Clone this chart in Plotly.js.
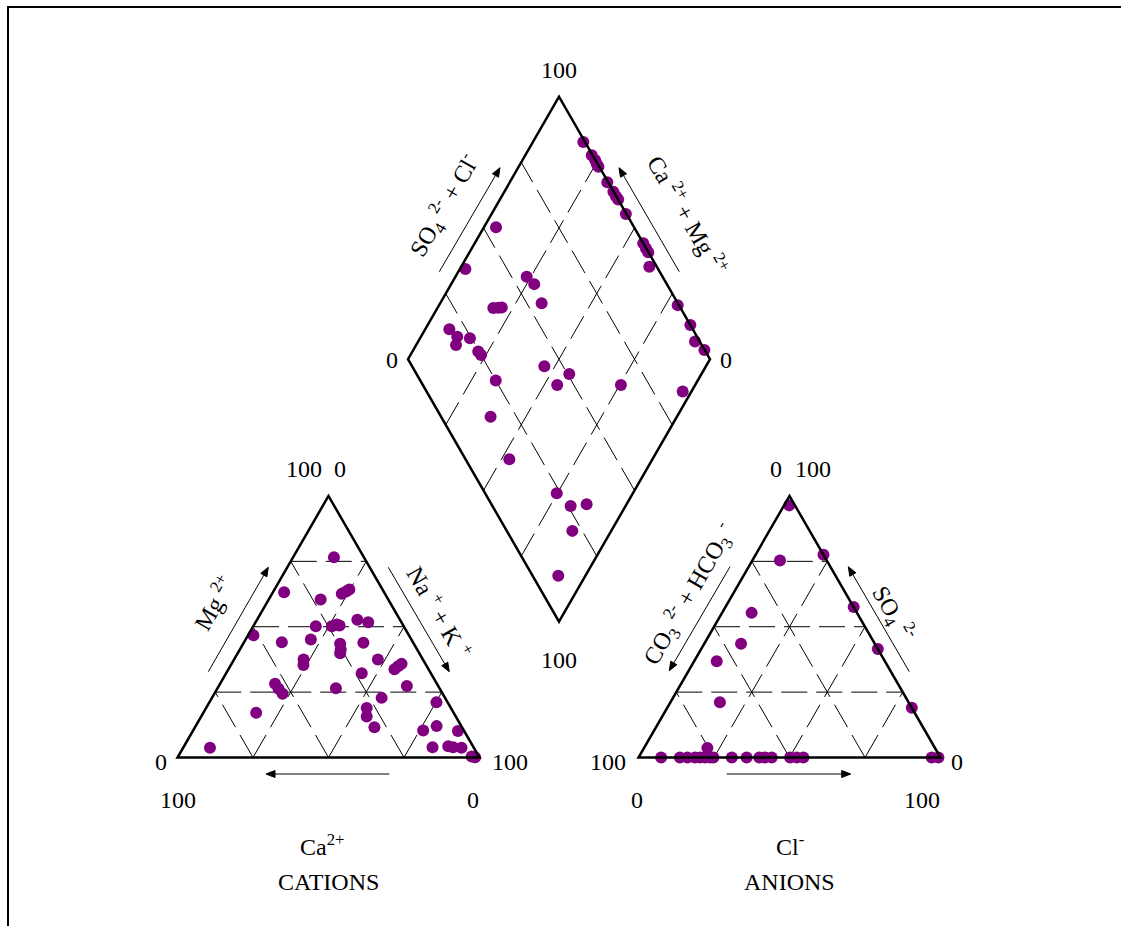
<!DOCTYPE html>
<html><head><meta charset="utf-8">
<script src="https://cdn.plot.ly/plotly-3.0.1.min.js"></script>
<style>html,body{margin:0;padding:0;background:#fff;} #chart{width:1121px;height:926px;}</style>
</head><body><div id="chart"></div>
<script>
// ---------------- DATA (percent of meq/L) ----------------
// Cation triangle
const cationMg  = [76.6,63.2,60.4,62.6,63.5,64.2,46.7,44.1,50.2,45.1,50.2,50.9,50.5,52.7,51.7,43.9,43.5,41.3,39.9,37.5,35.4,37.5,33.7,34.9,35.8,32.2,28.2,26.3,24.4,26.5,27.3,22.8,21.1,18.9,15.7,17.1,11.6,10.3,12.0,10.1,3.7,3.9,4.3,3.9,3.7,0.4,0.1];
const cationNaK = [13.5,3.7,17.2,23.1,24.1,24.8,1.8,12.5,20.7,21.6,26.0,27.3,28.4,33.2,37.3,39.6,32.1,33.4,33.9,23.0,24.0,47.6,55.0,55.6,56.3,44.9,18.2,20.3,22.6,39.2,62.3,56.2,75.2,53.2,54.8,17.5,59.4,76.2,79.8,87.8,8.9,82.5,87.5,89.3,92.2,97.2,98.5];
const cationCa  = [9.9,33.1,22.4,14.3,12.4,11.0,51.5,43.4,29.1,33.3,23.8,21.8,21.1,14.1,11.0,16.5,24.4,25.3,26.2,39.5,40.6,14.9,11.3,9.5,7.9,22.9,53.6,53.4,53.0,34.3,10.4,21.0,3.7,27.9,29.5,65.4,29.0,13.5,8.2,2.1,87.4,13.6,8.2,6.8,4.1,2.4,1.4];
// Anion triangle
const anionSO4 = [96.4,77.5,75.3,57.5,55.3,41.5,43.5,36.8,21.1,19.0,0,0,0,0,0,0,0,0,3.6,0,0,0,0,0,0,0,0,0,0];
const anionCl  = [1.7,22.5,9.2,42.5,9.8,58.5,12.2,7.5,16.4,81.0,7.5,13.7,16.2,18.7,20.4,22.0,23.7,24.8,21.0,30.9,35.8,40.0,41.9,44.1,50.2,52.4,54.6,97.1,99.3];
// Diamond (SO4+Cl, Ca+Mg)
const diamondSO4Cl = [99.4,99.7,99.9,99.7,99.7,99.7,99.9,99.9,100,99.8,54.3,100,99.9,99.9,97.5,36.2,55.0,56.1,54.9,38.0,39.7,40.9,99.6,19.4,20.6,18.6,24.5,24.7,25.0,100,98.4,99.9,43.8,50.6,44.5,25.0,65.6,84.8,16.4,14.5,23.7,25.9,31.5,21.7,8.5];
const diamondCaMg  = [83.3,78.0,76.0,74.7,73.6,67.7,63.9,62.2,60.8,55.5,96.0,44.2,42.3,40.8,37.7,98.2,76.4,72.5,66.4,81.5,79.9,78.8,21.0,92.0,88.0,86.8,83.5,78.2,76.6,13.0,8.3,3.6,53.5,43.8,45.7,66.9,24.6,2.9,61.7,47.4,25.2,18.2,13.2,12.9,9.0];
// Scale labels and axis names
const scaleLabels = ['0','100'];
const cationNames = ['Mg <sup>2+</sup>','Na <sup>+</sup> + K <sup>+</sup>','Ca<sup>2+</sup>','CATIONS'];
const anionNames  = ['CO<sub>3</sub> <sup>2-</sup> + HCO<sub>3</sub> <sup>-</sup>','SO<sub>4</sub> <sup>2-</sup>','Cl<sup>-</sup>','ANIONS'];
const diamondNames = ['SO<sub>4</sub> <sup>2-</sup> + Cl<sup>-</sup>','Ca <sup>2+</sup> + Mg <sup>2+</sup>'];

// ---------------- GEOMETRY ----------------
const S = 302, H = S*Math.sqrt(3)/2, BASE = 757.5;
const CL = 177.5, AL = 638.5;
const DX = 559, DB = 621.7, DH = 262.5;
const PURPLE = '#800080';
const FONT = 'Liberation Serif, Times New Roman, serif';

function catXY(mg, nak){ return [CL + S*(nak + mg/2)/100, BASE - H*mg/100]; }
function anXY(so4, cl){ return [AL + S*(cl + so4/2)/100, BASE - H*so4/100]; }
function diaXY(a, c){ return [DX + (a-c)/100*S/2, DB - (a+c)/100*DH]; }

const shapes = [];
function line(x0,y0,x1,y1,w,dash){ shapes.push({type:'line',xref:'x',yref:'y',x0,y0,x1,y1,line:{color:'#000',width:w,dash:dash||'solid'},layer:'below'}); }
const GD = '26px,9px';

// Frame
line(7,7,1121,7,2); line(8,7,8,926,2);

function triangle(L){
  const p = [[L,BASE],[L+S,BASE],[L+S/2,BASE-H]];
  shapes.push({type:'path',xref:'x',yref:'y',path:`M${p[0][0]},${p[0][1]} L${p[1][0]},${p[1][1]} L${p[2][0]},${p[2][1]} Z`,line:{color:'#000',width:2.5},layer:'above'});
  [25,50,75].forEach(k=>{
    const f = k/100;
    line(L+S*f/2, BASE-H*f, L+S-S*f/2, BASE-H*f, 1, GD);
    line(L+S*f, BASE, L+S*f+(S-S*f)/2, BASE-H*(1-f), 1, GD);
    line(L+S*f, BASE, L+S*f/2, BASE-H*f, 1, GD);
  });
}
triangle(CL); triangle(AL);

// Diamond
{
  const b=diaXY(0,0), r=diaXY(100,0), t=diaXY(100,100), l=diaXY(0,100);
  shapes.push({type:'path',xref:'x',yref:'y',path:`M${b[0]},${b[1]} L${r[0]},${r[1]} L${t[0]},${t[1]} L${l[0]},${l[1]} Z`,line:{color:'#000',width:2.5},layer:'above'});
  [25,50,75].forEach(k=>{
    const p0=diaXY(k,0), p1=diaXY(k,100); line(p0[0],p0[1],p1[0],p1[1],1,GD);
    const q0=diaXY(0,k), q1=diaXY(100,k); line(q0[0],q0[1],q1[0],q1[1],1,GD);
  });
}

// Arrows drawn as a line plus a filled head
function arrow(x0,y0,x1,y1){
  const dx=x1-x0, dy=y1-y0, len=Math.hypot(dx,dy), ux=dx/len, uy=dy/len;
  const hl=9, hw=3.5;
  const bx=x1-ux*hl, by=y1-uy*hl;
  shapes.push({type:'line',xref:'x',yref:'y',x0,y0,x1:bx,y1:by,line:{color:'#000',width:1}});
  const p1=[bx-uy*hw,by+ux*hw], p2=[bx+uy*hw,by-ux*hw];
  shapes.push({type:'path',xref:'x',yref:'y',path:`M${x1},${y1} L${p1[0]},${p1[1]} L${p2[0]},${p2[1]} Z`,fillcolor:'#000',line:{color:'#000',width:1}});
}

// Points
const cat = cationMg.map((m,i)=>catXY(m,cationNaK[i]));
const an = anionSO4.map((s,i)=>anXY(s,anionCl[i]));
const dia = diamondSO4Cl.map((a,i)=>diaXY(a,diamondCaMg[i]));
const mk = {color:PURPLE,size:12,symbol:'circle'};
const traces = [
  {x:cat.map(p=>p[0]),y:cat.map(p=>p[1]),mode:'markers',type:'scatter',marker:mk,customdata:cationCa,hoverinfo:'skip'},
  {x:an.map(p=>p[0]),y:an.map(p=>p[1]),mode:'markers',type:'scatter',marker:mk,hoverinfo:'skip'},
  {x:dia.map(p=>p[0]),y:dia.map(p=>p[1]),mode:'markers',type:'scatter',marker:mk,hoverinfo:'skip'}
];

// Annotations
const ann = [];
function txt(x,y,t,size,angle){ ann.push({x,y,xref:'x',yref:'y',text:t,showarrow:false,xanchor:'center',yanchor:'middle',textangle:angle||0,font:{family:FONT,size:size||24,color:'#000'}}); }

// Diamond labels
txt(559,70,scaleLabels[1]); txt(392,360,scaleLabels[0]); txt(726,360,scaleLabels[0]); txt(559,660,scaleLabels[1]);
txt(444,206,diamondNames[0],24,-60); txt(688,214,diamondNames[1],24,60);
arrow(439.3,271.7,500,167.7); arrow(679.3,271.7,619,167.7);

// Cation labels
txt(304,469,scaleLabels[1]); txt(340,469,scaleLabels[0]);
txt(161,762,scaleLabels[0]); txt(510,762,scaleLabels[1]);
txt(178,800,scaleLabels[1]); txt(473,800,scaleLabels[0]);
txt(213,603,cationNames[0],24,-60); txt(440,612,cationNames[1],24,60);
arrow(208.3,671.7,268.3,567.3); arrow(388.3,567.3,449.3,671.7); arrow(389.3,774,266,774);
txt(322,845,cationNames[2]); txt(328,882,cationNames[3]);

// Anion labels
txt(776,469,scaleLabels[0]); txt(813,469,scaleLabels[1]);
txt(608,762,scaleLabels[1]); txt(957,762,scaleLabels[0]);
txt(637,800,scaleLabels[0]); txt(922,800,scaleLabels[1]);
txt(689,594,anionNames[0],24,-60); txt(893,613,anionNames[1],24,60);
arrow(730,566.7,669.3,670.7); arrow(909.3,671.7,848.3,566.7); arrow(726.7,774,850.7,774);
txt(790,845,anionNames[2]); txt(789,882,anionNames[3]);

const layout = {
  width:1121,height:926,margin:{l:0,r:0,t:0,b:0},
  paper_bgcolor:'#fff',plot_bgcolor:'#fff',showlegend:false,
  xaxis:{range:[0,1121],visible:false,fixedrange:true},
  yaxis:{range:[926,0],visible:false,fixedrange:true},
  shapes:shapes,annotations:ann
};
Plotly.newPlot('chart',traces,layout,{staticPlot:true,displayModeBar:false});
</script></body></html>
